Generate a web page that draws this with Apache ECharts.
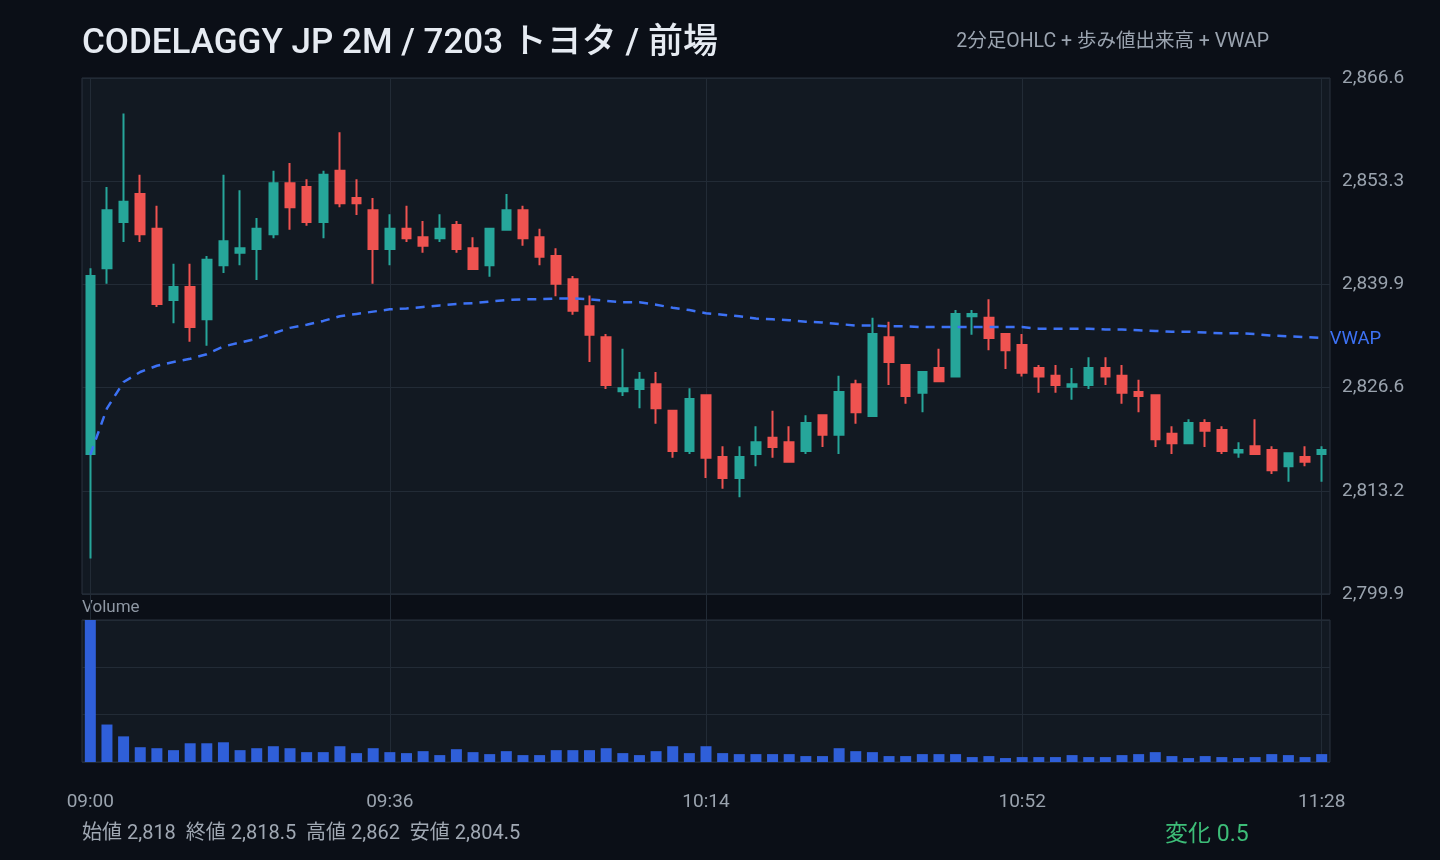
<!DOCTYPE html>
<html>
<head>
<meta charset="utf-8">
<script src="https://cdn.jsdelivr.net/npm/echarts@6/dist/echarts.min.js"></script>
<style>
html,body{margin:0;padding:0;background:#0b0f17;}
#chart{width:1440px;height:860px;}
</style>
</head>
<body>
<div id="chart"></div>
<script>
// ---- data ----
const times = [];
(function(){ for (let m = 9*60; m <= 11*60+28; m += 2) { times.push(String(Math.floor(m/60)).padStart(2,'0') + ':' + String(m%60).padStart(2,'0')); } })();

const opens  = [2818,2842,2848,2851.6,2847.1,2837.9,2839.6,2835.4,2842.4,2844,2844.5,2846.4,2853,2852.5,2848,2854.6,2851.1,2849.5,2844.5,2847.1,2846,2845.9,2847.6,2844.6,2842.4,2847,2849.5,2846,2843.6,2840.6,2837.1,2833.1,2826.1,2826.4,2827,2823.6,2818.4,2825.6,2817.6,2814.9,2818,2820.1,2819.5,2818.4,2823,2820.5,2827,2822.9,2833.1,2829.5,2825.9,2829.1,2828,2835.8,2835.6,2833.5,2832.1,2829.1,2828.1,2826.7,2826.9,2829.1,2828.1,2826,2825.6,2820.6,2819.4,2822,2821.1,2818.2,2819,2818.5,2816.4,2817.6,2818];
const closes = [2841,2849.5,2850.6,2846.4,2837.4,2839.6,2834.4,2843.1,2845.5,2844.6,2847.1,2853,2849.9,2848,2854.1,2850.4,2850.4,2844.5,2847.1,2845.9,2844.9,2847.1,2844.5,2841.9,2847.1,2849.5,2845.9,2843.5,2840,2836.5,2833.4,2826.9,2826.5,2827.6,2823.9,2818.4,2825.1,2817.5,2814.9,2817.6,2819.5,2818.9,2817,2822,2820.5,2826,2823.4,2833.5,2829.9,2825.5,2828.6,2827.4,2836.1,2836.1,2833,2831.4,2828.5,2828,2826.9,2827,2829.1,2828,2825.9,2825.5,2819.9,2819.4,2822,2821,2818.4,2818.5,2818,2815.9,2818.1,2817,2818.5];
const lows   = [2804.5,2840,2845.4,2845.4,2837,2834.9,2832.5,2832,2841.4,2842.4,2840.5,2845.9,2847,2847.5,2845.9,2849.9,2848.9,2840,2842.4,2845.4,2844,2845.4,2844,2841.9,2840.9,2847,2844.9,2842.4,2838.4,2836,2829.9,2826.4,2825.5,2823.9,2821.9,2817.5,2818,2814.9,2813.5,2812.4,2816.4,2817.5,2817,2818,2818.9,2818,2821.9,2822.9,2826.9,2824.5,2823.4,2827.4,2828,2833.4,2831.4,2829,2828,2825.9,2825.9,2825,2826.4,2826.9,2824.5,2823.4,2818.9,2818,2819.4,2818.9,2818,2817.5,2818,2815.4,2814.4,2816.4,2814.4];
const highs  = [2842,2852.5,2862,2854.1,2850.1,2842.6,2842.6,2843.6,2854.1,2852.1,2848.5,2854.6,2855.6,2853.5,2854.6,2859.6,2853.5,2851.1,2849,2850.1,2848.1,2849,2848.1,2846,2847.1,2851.6,2850.1,2847.1,2844.6,2841,2838.5,2833.5,2831.6,2828.6,2828.6,2823.6,2826.5,2825.6,2819,2819,2821.6,2823.6,2821.6,2823,2823,2828.1,2827.6,2835.6,2835.1,2829.5,2828.6,2831.6,2836.6,2836.6,2838,2833.5,2833.5,2829.5,2829.5,2829.1,2830.5,2830.5,2829.5,2827.6,2825.6,2821.6,2822.5,2822.5,2821.6,2819.5,2822.5,2819,2818.1,2819,2819];
const volumes = [1440,380,260,150,140,120,190,190,200,120,140,160,140,100,100,160,90,140,100,90,110,70,130,100,80,110,70,70,120,120,120,140,90,70,110,160,90,160,90,80,80,80,80,60,60,140,110,100,60,60,80,80,80,50,60,40,50,50,50,70,50,50,70,80,100,60,40,60,50,40,50,80,70,50,80];
const vwap = [2817.9,2823.9,2827.3,2828.6,2829.4,2829.9,2830.3,2830.9,2831.9,2832.4,2832.9,2833.6,2834.3,2834.7,2835.2,2835.8,2836.1,2836.4,2836.7,2836.8,2837.0,2837.2,2837.4,2837.5,2837.7,2837.9,2838.0,2838.0,2838.1,2838.1,2838.0,2837.8,2837.6,2837.6,2837.3,2836.9,2836.6,2836.2,2836.0,2835.8,2835.5,2835.4,2835.3,2835.1,2835.0,2834.8,2834.6,2834.6,2834.5,2834.5,2834.4,2834.4,2834.4,2834.4,2834.4,2834.4,2834.4,2834.2,2834.2,2834.2,2834.2,2834.1,2834.1,2834.0,2833.9,2833.8,2833.8,2833.7,2833.6,2833.6,2833.5,2833.3,2833.2,2833.1,2833.0];
const priceTicks = [2799.9,2813.24,2826.58,2839.92,2853.26,2866.6];
const timeLabelIdx = [0,18,37,56,74];
const titleText = 'CODELAGGY JP 2M / 7203 トヨタ / 前場';
const subText = '2分足OHLC + 歩み値出来高 + VWAP';

// ---- derived ----
const ohlc = opens.map((o,i)=>[o, closes[i], lows[i], highs[i]]);
const dayOpen = opens[0], dayClose = closes[closes.length-1];
const dayHigh = Math.max.apply(null, highs), dayLow = Math.min.apply(null, lows);
const fmt = v => v.toLocaleString('en-US',{maximumFractionDigits:1});
const change = Math.round((dayClose - dayOpen)*10)/10;

const FONT = "Roboto, 'Noto Sans CJK JP', sans-serif";
const BG = '#0b0f17', PANEL = '#121922', BORDER = '#2a333f', GRIDLINE = '#222b36';
const UP = '#26a69a', DOWN = '#ef5350', BLUE = '#3d72f5', VOLBLUE = '#2f5fd9';
const showIdx = idx => timeLabelIdx.indexOf(idx) >= 0;

function catAxis(gridIndex, showLabel) {
  return {
    type: 'category', gridIndex, data: times, boundaryGap: true,
    axisLine: {show:false}, axisTick: {show:false},
    axisLabel: showLabel ? {show:true, interval: showIdx, color:'#9aa3ae', fontSize:19, fontFamily: FONT, margin: 31, hideOverlap:false} : {show:false},
    splitLine: {show:true, interval: showIdx, alignWithLabel: true, lineStyle:{color: GRIDLINE, width:1}}
  };
}

const chart = echarts.init(document.getElementById('chart'), null, {renderer:'canvas'});
chart.setOption({
  backgroundColor: BG,
  animation: false,
  textStyle: {fontFamily: FONT},
  title: [
    {text: titleText, left: 82, top: 27, padding: 0, textStyle:{color:'#e6ebf2', fontSize:35, fontWeight:500, fontFamily: FONT}},
    {text: subText, right: 171, top: 32, padding: 0, textStyle:{color:'#9ba4b0', fontSize:19.5, fontWeight:'normal', fontFamily: FONT}}
  ],
  grid: [
    {left: 82, top: 78, width: 1248, height: 516, show: true, backgroundColor: PANEL, borderColor: BORDER, borderWidth: 1},
    {left: 82, top: 594, width: 1248, height: 26, show: false},
    {left: 82, top: 620, width: 1248, height: 142, show: true, backgroundColor: PANEL, borderColor: BORDER, borderWidth: 1}
  ],
  xAxis: [catAxis(0,false), catAxis(1,false), catAxis(2,true)],
  yAxis: [
    {type:'value', gridIndex:0, position:'right', min: priceTicks[0], max: priceTicks[priceTicks.length-1], scale:true,
     axisLine:{show:false}, axisTick:{show:false, customValues: priceTicks},
     axisLabel:{customValues: priceTicks, color:'#9aa3ae', fontSize:19, fontFamily: FONT, margin: 12,
       formatter: v => v.toLocaleString('en-US',{minimumFractionDigits:1, maximumFractionDigits:1})},
     splitLine:{show:true, lineStyle:{color: GRIDLINE}}},
    {type:'value', gridIndex:1, show:false, splitLine:{show:false}},
    {type:'value', gridIndex:2, min:0, max:1440, interval:480, position:'right',
     axisLine:{show:false}, axisTick:{show:false}, axisLabel:{show:false},
     splitLine:{show:true, lineStyle:{color: GRIDLINE}}}
  ],
  graphic: [
    {type:'text', left: 82, top: 599, style:{text:'Volume', fill:'#8e97a3', font: "17px " + FONT}},
    {type:'text', left: 82, top: 824, style:{text:'始値 ' + fmt(dayOpen) + '  終値 ' + fmt(dayClose) + '  高値 ' + fmt(dayHigh) + '  安値 ' + fmt(dayLow), fill:'#a0a8b3', font: "20px " + FONT}},
    {type:'text', left: 1165, top: 824, style:{text:'変化 ' + fmt(change), fill:'#3dbd78', font: "23px " + FONT}}
  ],
  series: [
    {type:'candlestick', xAxisIndex:0, yAxisIndex:0, data: ohlc, barWidth: 9,
     itemStyle:{color: UP, color0: DOWN, borderColor: UP, borderColor0: DOWN, borderWidth: 2}},
    {type:'line', xAxisIndex:0, yAxisIndex:0, data: vwap, showSymbol:false, symbol:'none', smooth:false,
     lineStyle:{color: BLUE, width: 2.5, type:[9,7]},
     endLabel:{show:true, formatter:'VWAP', color: BLUE, fontSize:18.5, fontFamily: FONT, distance: 8, offset:[0,1]}},
    {type:'bar', xAxisIndex:2, yAxisIndex:2, data: volumes, barWidth: 11, itemStyle:{color: VOLBLUE}}
  ]
});
</script>
</body>
</html>
